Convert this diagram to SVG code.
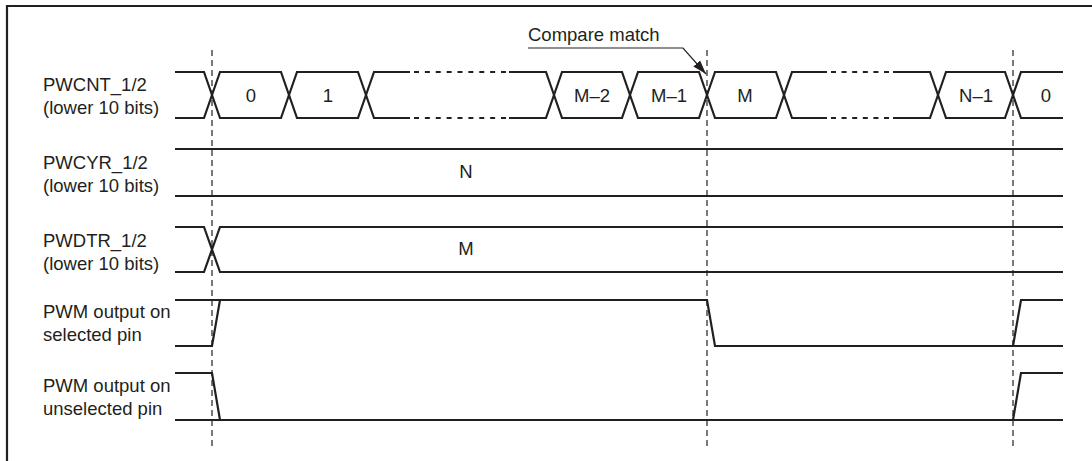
<svg xmlns="http://www.w3.org/2000/svg" width="1092" height="461" viewBox="0 0 1092 461">
<style>
.sig{fill:none;stroke:#231f20;stroke-width:2.2;stroke-linejoin:miter}
.dsh{fill:none;stroke:#231f20;stroke-width:2.2}
.vd{fill:none;stroke:#231f20;stroke-width:1.2;stroke-dasharray:6 4}
.lbl{font-family:"Liberation Sans",Arial,sans-serif;font-size:18.5px;fill:#231f20}
.val{font-family:"Liberation Sans",Arial,sans-serif;font-size:18.5px;fill:#231f20;text-anchor:middle}
.lead{fill:none;stroke:#231f20;stroke-width:1.2}
</style>
<defs>
<marker id="ah" viewBox="0 0 14 9" refX="14" refY="4.5" markerWidth="14" markerHeight="9" markerUnits="userSpaceOnUse" orient="auto">
<path d="M0,0 L14,4.5 L0,9 z" fill="#231f20"/>
</marker>
</defs>
<rect width="1092" height="461" fill="#ffffff"/>
<path d="M7,461 V6 H1092" fill="none" stroke="#231f20" stroke-width="2.2"/>

<g id="connectors">
<path class="vd" d="M212,50 V447"/>
<path class="vd" d="M707,50 V447"/>
<path class="vd" d="M1013,50 V447"/>
<path class="lead" d="M528,48 H683 L706,74" marker-end="url(#ah)"/>
<text class="lbl" x="528" y="41">Compare match</text>
</g>

<g id="pwcnt">
<text class="lbl" x="43" y="91">PWCNT_1/2</text>
<text class="lbl" x="43" y="114">(lower 10 bits)</text>
<path class="sig" d="M175,72 H204 L220,118 H281 L297,72 H358 L374,118 H410 M509,118 H546 L562,72 H622 L638,118 H699 L715,72 H776 L792,118 H827 M893,118 H930 L946,72 H1005 L1021,118 H1063"/>
<path class="sig" d="M175,118 H204 L220,72 H281 L297,118 H358 L374,72 H410 M509,72 H546 L562,118 H622 L638,72 H699 L715,118 H776 L792,72 H827 M893,72 H930 L946,118 H1005 L1021,72 H1063"/>
<path class="dsh" stroke-dasharray="5 5.875" d="M414,72 H506 M414,118 H506"/>
<path class="dsh" stroke-dasharray="5 5.6" d="M831,72 H889 M831,118 H889"/>
<text class="val" x="251" y="102">0</text>
<text class="val" x="328" y="102">1</text>
<text class="val" x="592" y="102">M–2</text>
<text class="val" x="669" y="102">M–1</text>
<text class="val" x="745" y="102">M</text>
<text class="val" x="976" y="102">N–1</text>
<text class="val" x="1046" y="102">0</text>
</g>

<g id="pwcyr">
<text class="lbl" x="43" y="169">PWCYR_1/2</text>
<text class="lbl" x="43" y="192">(lower 10 bits)</text>
<path class="sig" d="M175,149 H1063 M175,196 H1063"/>
<text class="val" x="466" y="178">N</text>
</g>

<g id="pwdtr">
<text class="lbl" x="43" y="247">PWDTR_1/2</text>
<text class="lbl" x="43" y="270">(lower 10 bits)</text>
<path class="sig" d="M175,227 H204 L220,272 H1063 M175,272 H204 L220,227 H1063"/>
<text class="val" x="466" y="255">M</text>
</g>

<g id="pwm-selected">
<text class="lbl" x="43" y="318">PWM output on</text>
<text class="lbl" x="43" y="341">selected pin</text>
<path class="sig" d="M175,300 H707 L715,346 H1063 M175,346 H212 L220,300 M1013,346 L1021,300 H1063"/>
</g>

<g id="pwm-unselected">
<text class="lbl" x="43" y="392">PWM output on</text>
<text class="lbl" x="43" y="415">unselected pin</text>
<path class="sig" d="M175,420 H1063 M175,373 H212 L220,420 M1013,420 L1021,373 H1063"/>
</g>
</svg>
